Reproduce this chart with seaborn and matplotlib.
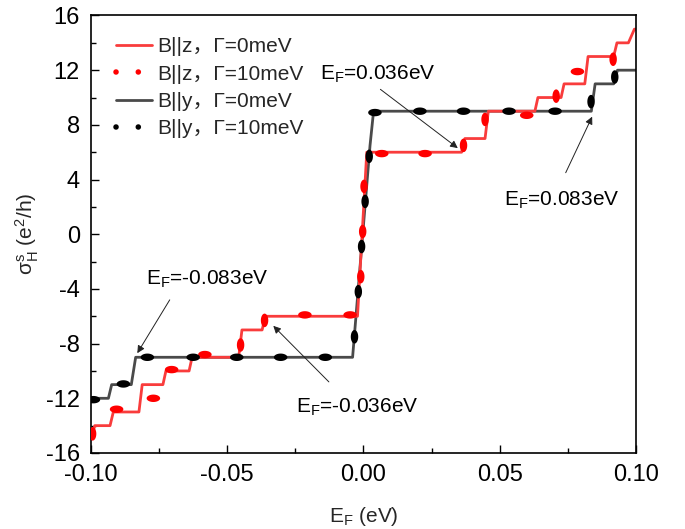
import numpy as np
import pandas as pd
import matplotlib
matplotlib.use("Agg")
import matplotlib.pyplot as plt
from matplotlib.path import Path
from matplotlib.lines import Line2D
import seaborn as sns

# B||z, Gamma=0meV  (step curve, vertices)
E_z0 = [-0.1000, -0.0986, -0.0930, -0.0918, -0.0824, -0.0812, -0.0736, -0.0725,
        -0.0640, -0.0629, -0.0458, -0.0446, -0.0372, -0.0360, -0.0022,
        0.0012, 0.0360, 0.0372, 0.0446, 0.0458, 0.0629, 0.0640, 0.0725,
        0.0736, 0.0812, 0.0824, 0.0918, 0.0930, 0.0972, 0.0994, 0.1000]
S_z0 = [-15, -14, -14, -13, -13, -11, -11, -10, -10, -9, -9, -7, -7, -6, -6,
        6, 6, 7, 7, 9, 9, 10, 10, 11, 11, 13, 13, 14, 14, 15, 15]

# B||y, Gamma=0meV
E_y0 = [-0.1000, -0.0936, -0.0924, -0.0852, -0.0836, -0.0040, 0.0024, 0.0037,
        0.0836, 0.0850, 0.0918, 0.0932, 0.1000]
S_y0 = [-12, -12, -11, -11, -9, -9, 6.5, 9, 9, 11, 11, 12, 12]

# Gamma=10meV curves: visible dots (h = lying on a plateau, v = on a riser)
E_z10 = [-0.0994, -0.0906, -0.0771, -0.0704, -0.0582, -0.0451, -0.0363, -0.0215,
         -0.0049, -0.0010, -0.0003, 0.0002, 0.0067, 0.0226, 0.0367, 0.0446,
         0.0599, 0.0707, 0.0785, 0.0916]
S_z10 = [-14.6, -12.8, -12.0, -9.9, -8.8, -8.1, -6.3, -5.9, -5.9, -3.1, 0.2, 3.5,
         5.9, 5.9, 6.5, 8.4, 8.7, 10.1, 11.9, 12.8]
D_z10 = ["v", "h", "h", "h", "h", "v", "v", "h", "h", "v", "v", "v",
         "h", "h", "v", "v", "h", "v", "h", "v"]

E_y10 = [-0.0991, -0.0881, -0.0793, -0.0625, -0.0465, -0.0304, -0.0140, -0.0033,
         -0.0019, -0.0007, 0.0006, 0.0021, 0.0042, 0.0207, 0.0367, 0.0534,
         0.0703, 0.0835, 0.0922]
S_y10 = [-12.1, -10.95, -9.0, -9.0, -9.0, -9.0, -9.0, -7.5, -4.2, -0.9, 2.4, 5.7,
         8.9, 9.0, 9.0, 9.0, 9.0, 9.7, 11.5]
D_y10 = ["h", "h", "h", "h", "h", "h", "h", "v", "v", "v", "v", "v",
         "h", "h", "h", "h", "h", "v", "v"]

labels = ["B||z，Γ=0meV", "B||z，Γ=10meV", "B||y，Γ=0meV", "B||y，Γ=10meV"]

x_ticks = [-0.10, -0.05, 0.00, 0.05, 0.10]
y_ticks = [-16, -12, -8, -4, 0, 4, 8, 12, 16]

RED_SOLID = "#F93C3C"
GRAY_SOLID = "#4A4A4A"

sns.set_style("ticks")
plt.rcParams["font.family"] = ["Liberation Sans", "Noto Sans CJK SC", "DejaVu Sans"]
plt.rcParams["axes.unicode_minus"] = False

fig = plt.figure(figsize=(6.85, 5.29), dpi=100)
ax = fig.add_axes([0.1328, 0.1437, 0.7957, 0.8270])

# oval "dots" of the thick dotted lines
t = np.linspace(0, 2 * np.pi, 41)
oval_h = Path(np.column_stack([np.cos(t), 0.55 * np.sin(t)]), closed=True)
oval_v = Path(np.column_stack([0.55 * np.cos(t), np.sin(t)]), closed=True)

sns.lineplot(x=E_y0, y=S_y0, sort=False, estimator=None, color=GRAY_SOLID,
             lw=2.0, ax=ax)
sns.lineplot(x=E_z0, y=S_z0, sort=False, estimator=None, color=RED_SOLID,
             lw=2.0, ax=ax)

df_z = pd.DataFrame({"E": E_z10, "S": S_z10, "d": D_z10})
df_y = pd.DataFrame({"E": E_y10, "S": S_y10, "d": D_y10})
sns.scatterplot(data=df_z, x="E", y="S", style="d", markers={"h": oval_h, "v": oval_v},
                color="#FF0000", s=95, linewidth=0, legend=False, ax=ax, zorder=3)
sns.scatterplot(data=df_y, x="E", y="S", style="d", markers={"h": oval_h, "v": oval_v},
                color="#000000", s=95, linewidth=0, legend=False, ax=ax, zorder=4)

# annotations
ann = [
    (r"E$_\mathregular{F}$=0.036eV", (-0.0160, 11.3), (0.0062, 10.6), (0.0346, 6.3)),
    (r"E$_\mathregular{F}$=0.083eV", (0.0516, 2.14), (0.0742, 4.5), (0.0839, 8.6)),
    (r"E$_\mathregular{F}$=-0.083eV", (-0.0797, -3.7), (-0.0711, -4.8), (-0.0830, -8.7)),
    (r"E$_\mathregular{F}$=-0.036eV", (-0.0246, -13.0), (-0.0127, -10.8), (-0.0331, -6.7)),
]
for txt, pos, tail, head in ann:
    ax.text(pos[0], pos[1], txt, fontsize=15, ha="left", va="baseline", color="black")
    ax.annotate("", xy=head, xytext=tail,
                arrowprops=dict(arrowstyle="-|>", lw=0.7, color="#222222",
                                mutation_scale=11, shrinkA=0, shrinkB=0))

ax.set_xlim(-0.1, 0.1)
ax.set_ylim(-16, 16)
ax.set_xticks(x_ticks)
ax.set_xticklabels([f"{v:.2f}" for v in x_ticks])
ax.set_yticks(y_ticks)
ax.set_xticks(np.arange(-0.1, 0.1001, 0.025), minor=True)
ax.set_yticks(np.arange(-16, 17, 2), minor=True)
ax.tick_params(which="both", direction="in", top=False, right=False,
               width=1.0, labelsize=17, colors="black")
ax.tick_params(which="major", length=6, pad=8)
ax.tick_params(which="minor", length=3.5)
for sp in ax.spines.values():
    sp.set_visible(True)
    sp.set_linewidth(1.2)
    sp.set_color("black")

ax.set_xlabel(r"E$_\mathregular{F}$ (eV)", fontsize=15)
ax.set_ylabel(r"$\mathregular{\sigma^{s}_{H}}$ (e$\mathregular{^{2}}$/h)", fontsize=15)
ax.xaxis.set_label_coords(0.5, -0.118)
ax.yaxis.set_label_coords(-0.092, 0.5)

handles = [
    Line2D([], [], color=RED_SOLID, lw=2.0),
    Line2D([], [], color="#FF0000", lw=4, ls=(0, (0.01, 4)), dash_capstyle="round"),
    Line2D([], [], color=GRAY_SOLID, lw=2.0),
    Line2D([], [], color="#000000", lw=4, ls=(0, (0.01, 4)), dash_capstyle="round"),
]
ax.legend(handles, labels, loc="upper left", bbox_to_anchor=(0.046, 0.950),
          frameon=False, fontsize=15, handlelength=1.75, handletextpad=0.25,
          labelspacing=0.4, borderpad=0, borderaxespad=0)

fig.savefig("out.png", dpi=100)
